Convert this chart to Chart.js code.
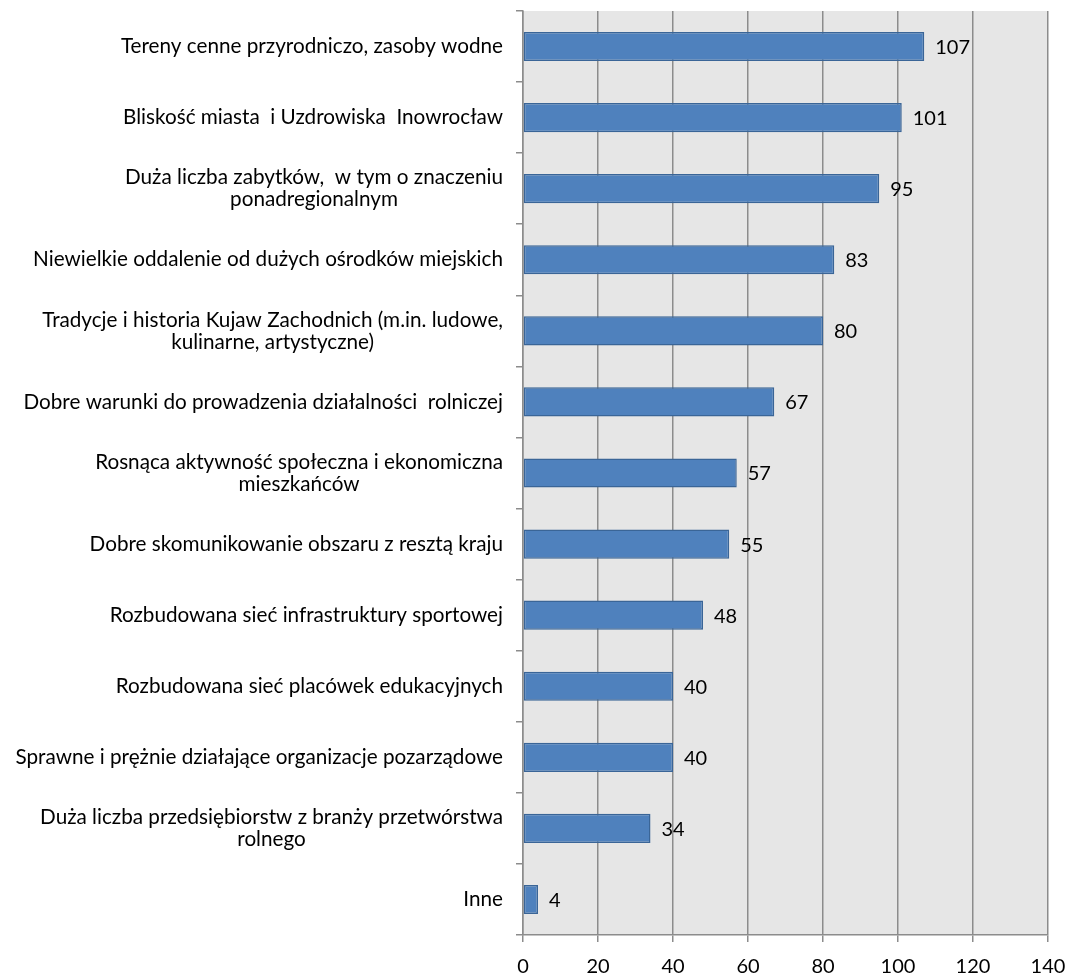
<!DOCTYPE html>
<html>
<head>
<meta charset="utf-8">
<script src="https://cdn.jsdelivr.net/npm/chart.js@4.4.0/dist/chart.umd.min.js"></script>
<style>
  html, body { margin: 0; padding: 0; background: #fff; }
  #wrap { width: 1070px; height: 974px; }
</style>
</head>
<body>
<div id="wrap"><canvas id="chart"></canvas></div>
<script>
const categories = [
  'Tereny cenne przyrodniczo, zasoby wodne',
  'Bliskość miasta  i Uzdrowiska  Inowrocław',
  ['Duża liczba zabytków,  w tym o znaczeniu', 'ponadregionalnym'],
  'Niewielkie oddalenie od dużych ośrodków miejskich',
  ['Tradycje i historia Kujaw Zachodnich (m.in. ludowe,', 'kulinarne, artystyczne)'],
  'Dobre warunki do prowadzenia działalności  rolniczej',
  ['Rosnąca aktywność społeczna i ekonomiczna', 'mieszkańców'],
  'Dobre skomunikowanie obszaru z resztą kraju',
  'Rozbudowana sieć infrastruktury sportowej',
  'Rozbudowana sieć placówek edukacyjnych',
  'Sprawne i prężnie działające organizacje pozarządowe',
  ['Duża liczba przedsiębiorstw z branży przetwórstwa', 'rolnego'],
  'Inne',
];
const counts = [107, 101, 95, 83, 80, 67, 57, 55, 48, 40, 40, 34, 4];
const xTicks = [0, 20, 40, 60, 80, 100, 120, 140];

const FONT = 'Lato, "Open Sans", sans-serif';
const FONT_SIZE = 20;
const LABEL_SIZE = 20.7;

// category labels: widest line right-aligned, extra lines centred under it
const categoryLabels = {
  id: 'categoryLabels',
  afterDraw(chart) {
    const ctx = chart.ctx;
    const yScale = chart.scales.y;
    const rightEdge = yScale.right - 20;
    const lineHeight = 22;
    ctx.save();
    ctx.font = LABEL_SIZE + 'px ' + FONT;
    ctx.fillStyle = '#000';
    ctx.textAlign = 'center';
    ctx.textBaseline = 'middle';
    categories.forEach((label, i) => {
      const lines = Array.isArray(label) ? label : [label];
      const maxW = Math.max(...lines.map((l) => ctx.measureText(l).width));
      const cx = rightEdge - maxW / 2;
      const cy = yScale.getPixelForValue(i);
      const y0 = cy - ((lines.length - 1) * lineHeight) / 2;
      lines.forEach((line, j) => {
        ctx.fillText(line, cx, y0 + j * lineHeight);
      });
    });
    ctx.restore();
  },
};

const valueLabels = {
  id: 'valueLabels',
  afterDatasetsDraw(chart) {
    const ctx = chart.ctx;
    const meta = chart.getDatasetMeta(0);
    ctx.save();
    ctx.font = FONT_SIZE + 'px ' + FONT;
    ctx.fillStyle = '#000';
    ctx.textBaseline = 'middle';
    ctx.textAlign = 'left';
    meta.data.forEach((bar, i) => {
      ctx.fillText(String(counts[i]), bar.x + 11, bar.y + 1);
    });
    ctx.restore();
  },
};

const plotBg = {
  id: 'plotBg',
  beforeDraw(chart) {
    const { ctx, chartArea } = chart;
    ctx.save();
    ctx.fillStyle = '#e6e6e6';
    ctx.fillRect(chartArea.left, chartArea.top, chartArea.right - chartArea.left, chartArea.bottom - chartArea.top);
    ctx.restore();
  },
};

new Chart(document.getElementById('chart').getContext('2d'), {
  type: 'bar',
  data: {
    labels: categories,
    datasets: [
      {
        data: counts,
        backgroundColor: '#4f81bd',
        borderColor: '#3a6597',
        borderWidth: 1.5,
        borderSkipped: false,
        barPercentage: 0.41,
        categoryPercentage: 1,
      },
    ],
  },
  options: {
    indexAxis: 'y',
    responsive: true,
    maintainAspectRatio: false,
    animation: false,
    layout: { padding: { top: 11, right: 22, left: 0, bottom: 0 } },
    plugins: {
      legend: { display: false },
      tooltip: { enabled: false },
    },
    scales: {
      x: {
        min: 0,
        max: 140,
        afterBuildTicks(scale) {
          scale.ticks = xTicks.map((v) => ({ value: v }));
        },
        afterFit(scale) {
          scale.height = 39;
          scale.paddingLeft = 0;
          scale.paddingRight = 0;
        },
        grid: {
          color: '#8c8c8c',
          lineWidth: 1.5,
          tickLength: 7,
          tickColor: '#8c8c8c',
        },
        border: { color: '#8c8c8c', width: 1.5 },
        ticks: {
          color: '#000',
          font: { family: FONT, size: FONT_SIZE },
          padding: 13,
          maxRotation: 0,
        },
      },
      y: {
        afterFit(scale) {
          scale.width = 523;
        },
        grid: {
          drawOnChartArea: false,
          offset: true,
          tickLength: 7,
          color: '#8c8c8c',
          lineWidth: 1.5,
        },
        border: { color: '#8c8c8c', width: 1.5 },
        ticks: {
          callback: () => '',
          autoSkip: false,
        },
      },
    },
  },
  plugins: [plotBg, valueLabels, categoryLabels],
});
</script>
</body>
</html>
